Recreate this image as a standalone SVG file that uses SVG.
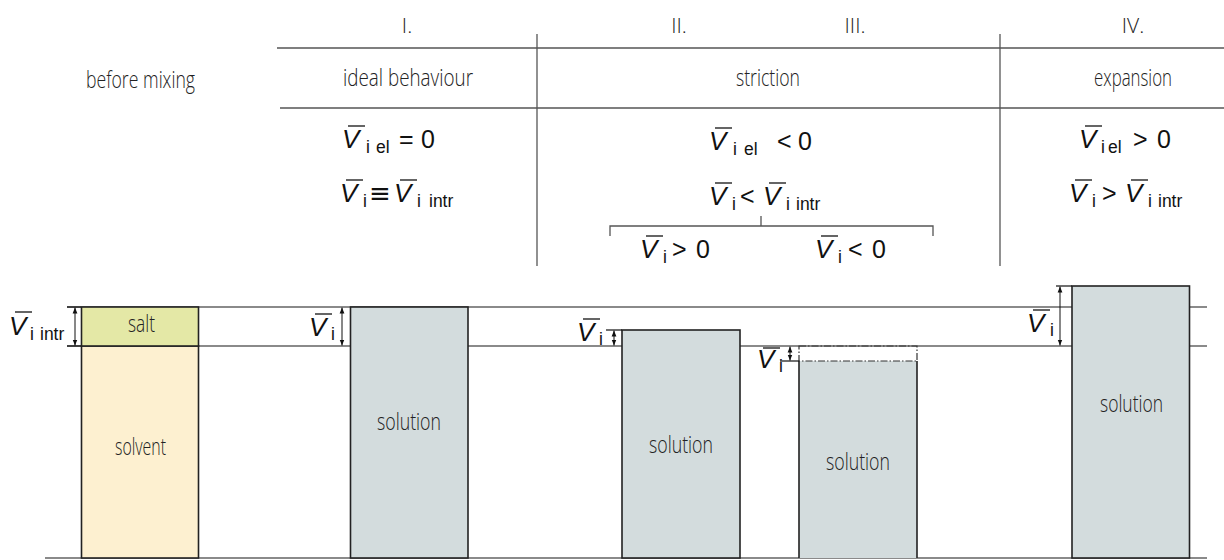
<svg xmlns="http://www.w3.org/2000/svg" width="1224" height="560" viewBox="0 0 1224 560">
<style>
.lbl{font-family:"Open Sans","Liberation Sans",sans-serif;font-weight:300;font-size:23px;fill:#222}
.num{font-family:"Open Sans","Liberation Sans",sans-serif;font-weight:300;font-size:21px;fill:#222;text-anchor:middle}
.m{font-family:"Liberation Sans","DejaVu Sans",sans-serif;font-size:25px;fill:#111}
.v{font-style:italic;font-size:26px}
.s{font-size:17.5px}
.eq{font-family:"DejaVu Sans",sans-serif;font-size:26px}
.ov{stroke:#111;stroke-width:1.3}
.hl{stroke:#555;stroke-width:1.3;fill:none}
.gl{stroke:#8a8a8a;stroke-width:1.8;fill:none}
.box{stroke:#222;stroke-width:1.6}
.arr{stroke:#111;stroke-width:1;marker-start:url(#ah);marker-end:url(#ah)}
.tk{stroke:#111;stroke-width:1.2}
</style>
<defs>
<marker id="ah" viewBox="0 0 10 10" refX="10" refY="5" markerWidth="6" markerHeight="6" orient="auto-start-reverse" markerUnits="userSpaceOnUse">
<path d="M0,1 L10,5 L0,9 z" fill="#111"/>
</marker>
</defs>
<rect width="1224" height="560" fill="#fff"/>

<g id="header-table">
<line class="hl" x1="277" y1="48" x2="1224" y2="48"/>
<line class="hl" x1="280" y1="108" x2="1224" y2="108"/>
<line class="hl" x1="537" y1="34" x2="537" y2="266"/>
<line class="hl" x1="1000" y1="34" x2="1000" y2="266"/>
<path class="hl" d="M610,236 V226 H933 V236 M761,216 V226"/>
<text class="lbl" x="86" y="88" textLength="109" lengthAdjust="spacingAndGlyphs">before mixing</text>
<text class="num" x="407" y="33">I.</text>
<text class="num" x="679" y="33">II.</text>
<text class="num" x="855" y="33">III.</text>
<text class="num" x="1133" y="33">IV.</text>
<text class="lbl" x="343" y="86" textLength="130" lengthAdjust="spacingAndGlyphs">ideal behaviour</text>
<text class="lbl" x="736" y="86" textLength="64" lengthAdjust="spacingAndGlyphs">striction</text>
<text class="lbl" x="1094" y="86" textLength="78" lengthAdjust="spacingAndGlyphs">expansion</text>
</g>

<g id="formulas-ideal">
<text class="m"><tspan class="v" x="342" y="148">V</tspan><tspan class="s" x="366" y="153">i</tspan><tspan class="s" x="376" y="153">el</tspan><tspan x="399" y="148">=</tspan><tspan x="421" y="148">0</tspan></text>
<line class="ov" x1="348" y1="126" x2="365" y2="126"/>
<text class="m"><tspan class="v" x="340" y="202">V</tspan><tspan class="s" x="363" y="207">i</tspan><tspan class="eq" x="369" y="202">≡</tspan><tspan class="v" x="394" y="202">V</tspan><tspan class="s" x="417" y="207">i</tspan><tspan class="s" x="429" y="207">intr</tspan></text>
<line class="ov" x1="346" y1="180" x2="363" y2="180"/>
<line class="ov" x1="400" y1="180" x2="417" y2="180"/>
</g>

<g id="formulas-striction">
<text class="m"><tspan class="v" x="709" y="150">V</tspan><tspan class="s" x="733" y="155">i</tspan><tspan class="s" x="744" y="155">el</tspan><tspan x="777" y="150">&lt;</tspan><tspan x="798" y="150">0</tspan></text>
<line class="ov" x1="715" y1="128" x2="732" y2="128"/>
<text class="m"><tspan class="v" x="709" y="205">V</tspan><tspan class="s" x="732" y="210">i</tspan><tspan x="740" y="205">&lt;</tspan><tspan class="v" x="763" y="205">V</tspan><tspan class="s" x="786" y="210">i</tspan><tspan class="s" x="796" y="210">intr</tspan></text>
<line class="ov" x1="715" y1="183" x2="732" y2="183"/>
<line class="ov" x1="769" y1="183" x2="786" y2="183"/>
<text class="m"><tspan class="v" x="640" y="258">V</tspan><tspan class="s" x="663" y="263">i</tspan><tspan x="672" y="258">&gt;</tspan><tspan x="696" y="258">0</tspan></text>
<line class="ov" x1="646" y1="236" x2="663" y2="236"/>
<text class="m"><tspan class="v" x="815" y="258">V</tspan><tspan class="s" x="838" y="263">i</tspan><tspan x="848" y="258">&lt;</tspan><tspan x="872" y="258">0</tspan></text>
<line class="ov" x1="821" y1="236" x2="838" y2="236"/>
</g>

<g id="formulas-expansion">
<text class="m"><tspan class="v" x="1079" y="148">V</tspan><tspan class="s" x="1101" y="153">i</tspan><tspan class="s" x="1108" y="153">el</tspan><tspan x="1133" y="148">&gt;</tspan><tspan x="1157" y="148">0</tspan></text>
<line class="ov" x1="1085" y1="126" x2="1102" y2="126"/>
<text class="m"><tspan class="v" x="1069" y="202">V</tspan><tspan class="s" x="1092" y="207">i</tspan><tspan x="1102" y="202">&gt;</tspan><tspan class="v" x="1125" y="202">V</tspan><tspan class="s" x="1148" y="207">i</tspan><tspan class="s" x="1158" y="207">intr</tspan></text>
<line class="ov" x1="1075" y1="180" x2="1092" y2="180"/>
<line class="ov" x1="1131" y1="180" x2="1148" y2="180"/>
</g>

<g id="reference-lines">
<line class="gl" x1="67" y1="307" x2="1207" y2="307"/>
<line class="gl" x1="67" y1="346" x2="1207" y2="346"/>
<line class="gl" x1="45" y1="558" x2="1207" y2="558"/>
</g>

<g id="before-mixing">
<rect class="box" x="81.5" y="346" width="117" height="212" fill="#fdf0d0"/>
<rect class="box" x="81.5" y="307" width="117" height="39" fill="#e4e8a6"/>
<text class="lbl" x="128" y="332" textLength="27" lengthAdjust="spacingAndGlyphs">salt</text>
<text class="lbl" x="115" y="455" textLength="51" lengthAdjust="spacingAndGlyphs">solvent</text>
<line class="tk" x1="67" y1="307" x2="81" y2="307"/>
<line class="tk" x1="67" y1="346" x2="81" y2="346"/>
<line class="arr" x1="75" y1="307.5" x2="75" y2="345.5"/>
<text class="m"><tspan class="v" x="9" y="335">V</tspan><tspan class="s" x="30" y="340">i</tspan><tspan class="s" x="40" y="340">intr</tspan></text>
<line class="ov" x1="15" y1="312" x2="32" y2="312"/>
</g>

<g id="ideal-solution">
<rect class="box" x="350.5" y="307" width="117.5" height="251" fill="#d3dcdd"/>
<text class="lbl" x="377" y="430" textLength="64" lengthAdjust="spacingAndGlyphs">solution</text>
<line class="arr" x1="342" y1="307.5" x2="342" y2="345.5"/>
<text class="m"><tspan class="v" x="309" y="336">V</tspan><tspan class="s" x="331" y="340">i</tspan></text>
<line class="ov" x1="315" y1="314" x2="332" y2="314"/>
</g>

<g id="striction-positive">
<rect class="box" x="622" y="330" width="118" height="228" fill="#d3dcdd"/>
<text class="lbl" x="649" y="453" textLength="64" lengthAdjust="spacingAndGlyphs">solution</text>
<line class="tk" x1="606" y1="330" x2="622" y2="330"/>
<line class="arr" x1="614" y1="330.5" x2="614" y2="345.5"/>
<text class="m"><tspan class="v" x="577" y="341">V</tspan><tspan class="s" x="599" y="345">i</tspan></text>
<line class="ov" x1="583" y1="319" x2="600" y2="319"/>
</g>

<g id="striction-negative">
<rect x="799" y="361" width="118" height="197" fill="#d3dcdd"/>
<path class="box" d="M799,558 V361 M917,361 V558" fill="none"/>
<rect x="799" y="346" width="118" height="15" fill="none" stroke="#333" stroke-width="1.2" stroke-dasharray="7,2,1.5,2"/>
<text class="lbl" x="826" y="470" textLength="64" lengthAdjust="spacingAndGlyphs">solution</text>
<line class="tk" x1="780" y1="361" x2="799" y2="361"/>
<line class="arr" x1="790" y1="346.5" x2="790" y2="360.5"/>
<text class="m"><tspan class="v" x="757" y="368">V</tspan><tspan class="s" x="779" y="372">i</tspan></text>
<line class="ov" x1="763" y1="348" x2="780" y2="348"/>
</g>

<g id="expansion-solution">
<rect class="box" x="1072" y="286" width="117.5" height="272" fill="#d3dcdd"/>
<text class="lbl" x="1100" y="412" textLength="63" lengthAdjust="spacingAndGlyphs">solution</text>
<line class="tk" x1="1056" y1="286" x2="1072" y2="286"/>
<line class="arr" x1="1060" y1="286.5" x2="1060" y2="345.5"/>
<text class="m"><tspan class="v" x="1027" y="332">V</tspan><tspan class="s" x="1050" y="336">i</tspan></text>
<line class="ov" x1="1033" y1="310" x2="1050" y2="310"/>
</g>
</svg>
